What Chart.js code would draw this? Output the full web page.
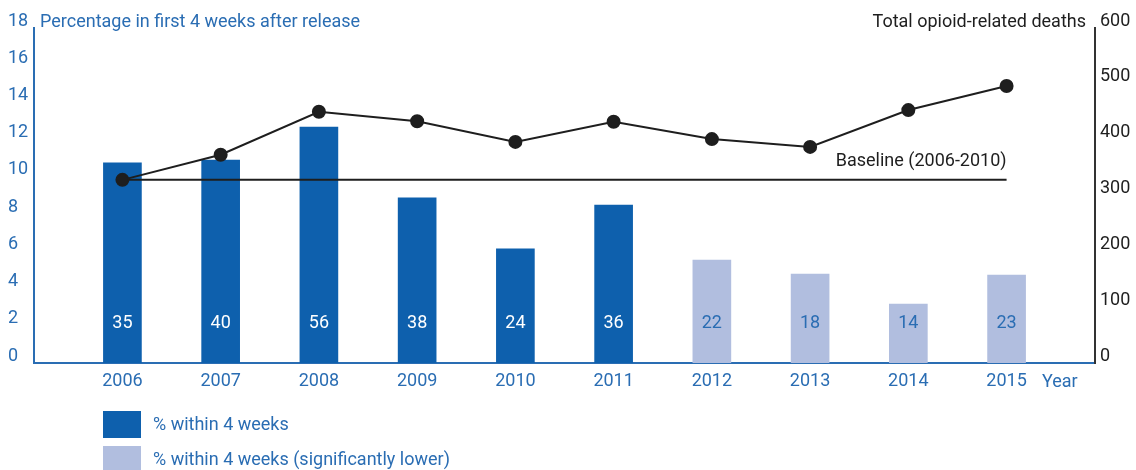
<!DOCTYPE html>
<html>
<head>
<meta charset="utf-8">
<script src="https://cdn.jsdelivr.net/npm/chart.js@4.4.0/dist/chart.umd.min.js"></script>
<style>
  html, body { margin: 0; padding: 0; background: #fff; }
</style>
</head>
<body>
<canvas id="chart" width="1136" height="470"></canvas>
<script>
// data
const years = [2006, 2007, 2008, 2009, 2010, 2011, 2012, 2013, 2014, 2015];
const pctWithin4Weeks = [10.75, 10.9, 12.68, 8.87, 6.13, 8.49, 5.53, 4.78, 3.17, 4.73];
const deathsWithin4Weeks = [35, 40, 56, 38, 24, 36, 22, 18, 14, 23];
const significantlyLower = [false, false, false, false, false, false, true, true, true, true];
const totalDeaths = [328, 373, 450, 433, 396, 432, 401, 387, 453, 496];
const baselinePct = 9.85;
const leftTicks = [0, 2, 4, 6, 8, 10, 12, 14, 16, 18];
const rightTicks = [0, 100, 200, 300, 400, 500, 600];

const DARK = '#0e60ad';
const LIGHT = '#b1bedf';
const BLUE_TEXT = '#2a6db3';
const BLACK = '#1e1e1e';
const FONT = "Roboto, sans-serif";

Chart.defaults.font.family = FONT;
Chart.defaults.font.size = 18;

const extras = {
  id: 'extras',
  afterDatasetsDraw(chart) {
    const ctx = chart.ctx;
    const area = chart.chartArea;
    const xs = chart.scales.x;
    const ys = chart.scales.y;
    ctx.save();
    ctx.font = '18px ' + FONT;
    ctx.textBaseline = 'middle';

    // counts inside the bars
    ctx.textAlign = 'center';
    chart.getDatasetMeta(0).data.forEach((bar, i) => {
      ctx.fillStyle = significantlyLower[i] ? BLUE_TEXT : '#ffffff';
      ctx.fillText(String(deathsWithin4Weeks[i]), bar.x, area.bottom - 40);
    });

    // baseline label
    ctx.fillStyle = BLACK;
    ctx.textAlign = 'right';
    ctx.fillText('Baseline (2006-2010)', xs.getPixelForValue(2015), ys.getPixelForValue(baselinePct) - 18);

    // axis titles
    ctx.fillStyle = BLUE_TEXT;
    ctx.textAlign = 'left';
    ctx.fillText('Percentage in first 4 weeks after release', 40, 22);
    ctx.fillStyle = BLACK;
    ctx.textAlign = 'right';
    ctx.fillText('Total opioid-related deaths', 1086, 22);
    ctx.fillStyle = BLUE_TEXT;
    ctx.textAlign = 'left';
    ctx.fillText('Year', 1042, area.bottom + 19);

    // legend
    ctx.fillStyle = DARK;
    ctx.fillRect(103, 411, 38, 27);
    ctx.fillStyle = LIGHT;
    ctx.fillRect(103, 446, 38, 27);
    ctx.fillStyle = BLUE_TEXT;
    ctx.fillText('% within 4 weeks', 153, 425);
    ctx.fillText('% within 4 weeks (significantly lower)', 153, 460);
    ctx.restore();
  }
};

new Chart(document.getElementById('chart'), {
  data: {
    datasets: [
      {
        type: 'bar',
        label: '% within 4 weeks',
        data: years.map((yr, i) => ({ x: yr, y: pctWithin4Weeks[i] })),
        backgroundColor: significantlyLower.map(l => l ? LIGHT : DARK),
        barThickness: 38,
        xAxisID: 'x',
        yAxisID: 'y',
        order: 3
      },
      {
        type: 'line',
        label: 'Baseline',
        data: [{ x: years[0], y: baselinePct }, { x: years[years.length - 1], y: baselinePct }],
        borderColor: BLACK,
        borderWidth: 2,
        pointRadius: 0,
        xAxisID: 'x',
        yAxisID: 'y',
        order: 2
      },
      {
        type: 'line',
        label: 'Total opioid-related deaths',
        data: years.map((yr, i) => ({ x: yr, y: totalDeaths[i] })),
        borderColor: BLACK,
        borderWidth: 2,
        pointRadius: 6,
        pointBackgroundColor: BLACK,
        pointBorderColor: BLACK,
        xAxisID: 'x',
        yAxisID: 'y1',
        order: 1
      }
    ]
  },
  options: {
    responsive: false,
    animation: false,
    layout: { padding: { left: 8, top: 28, right: 0, bottom: 0 } },
    plugins: { legend: { display: false }, tooltip: { enabled: false } },
    scales: {
      x: {
        type: 'linear',
        offset: false,
        min: 2005.1,
        max: 2015.9,
        afterBuildTicks: s => { s.ticks = years.map(v => ({ value: v })); },
        afterFit: s => { s.height = 107; },
        grid: { display: false, drawTicks: false, offset: false },
        border: { color: '#2a6db3', width: 2 },
        ticks: { color: BLUE_TEXT, padding: 8, callback: v => String(v), autoSkip: false, maxRotation: 0 }
      },
      y: {
        position: 'left',
        min: 0,
        max: 18,
        afterBuildTicks: s => { s.ticks = leftTicks.map(v => ({ value: v })); },
        afterFit: s => { s.width = 26; },
        grid: { display: false, drawTicks: false },
        border: { color: '#2a6db3', width: 2 },
        ticks: { color: BLUE_TEXT, crossAlign: 'far', labelOffset: -7 }
      },
      y1: {
        position: 'right',
        min: 0,
        max: 600,
        afterBuildTicks: s => { s.ticks = rightTicks.map(v => ({ value: v })); },
        afterFit: s => { s.width = 41; },
        grid: { display: false, drawTicks: false },
        border: { color: '#333333', width: 2 },
        ticks: { color: BLACK, padding: 5, labelOffset: -7 }
      }
    }
  },
  plugins: [extras]
});
</script>
</body>
</html>
